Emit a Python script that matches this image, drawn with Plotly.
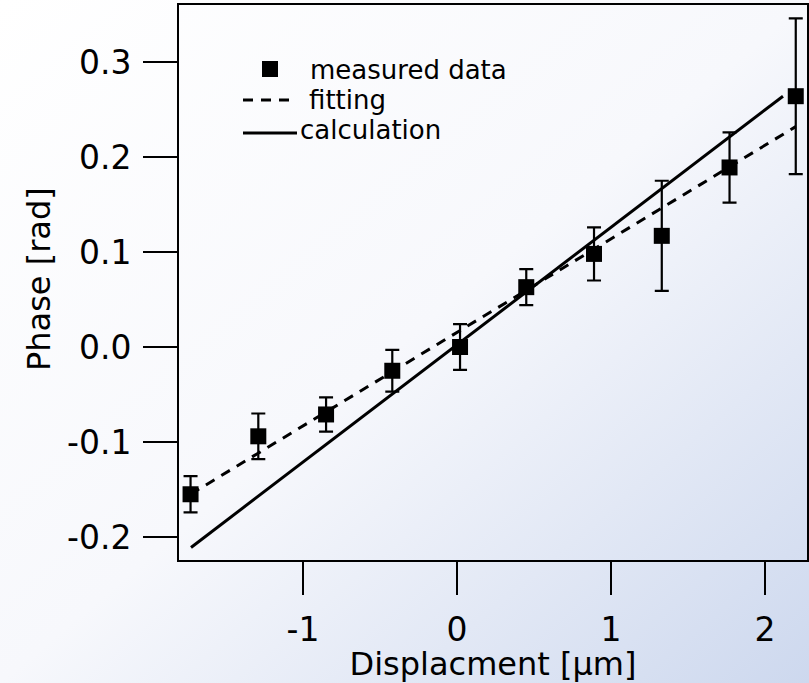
import base64
import plotly.graph_objects as go

# ---- data ----
disp = [-1.73, -1.29, -0.85, -0.42, 0.02, 0.45, 0.89, 1.33, 1.77, 2.20]
phase = [-0.155, -0.094, -0.071, -0.025, 0.000, 0.063, 0.098, 0.117, 0.189, 0.264]
phase_err = [0.019, 0.024, 0.018, 0.022, 0.024, 0.019, 0.028, 0.058, 0.037, 0.082]

fit_x = [-1.73, 2.20]
fit_y = [-0.155, 0.232]

calc_x = [-1.727, 2.117]
calc_y = [-0.211, 0.264]

x_tickvals = [-1, 0, 1, 2]
x_ticktext = ["-1", "0", "1", "2"]
y_tickvals = [-0.2, -0.1, 0.0, 0.1, 0.2, 0.3]
y_ticktext = ["-0.2", "-0.1", "0.0", "0.1", "0.2", "0.3"]

legend_labels = ["measured data", "fitting", "calculation"]

# ---- figure geometry ----
W, H = 809, 683
L, R, T, B = 179, 2, 5, 123
PW, PH = W - L - R, H - T - B


def px(xp):
    return (xp - L) / PW


def py(yp):
    return (H - B - yp) / PH


FONT = "DejaVu Sans"

fig = go.Figure()

fig.add_trace(go.Scatter(
    x=calc_x, y=calc_y, mode="lines",
    line=dict(color="black", width=3), showlegend=False))
fig.add_trace(go.Scatter(
    x=fit_x, y=fit_y, mode="lines",
    line=dict(color="black", width=3, dash="10px,8px"), showlegend=False))
fig.add_trace(go.Scatter(
    x=disp, y=phase, mode="markers",
    marker=dict(symbol="square", size=16, color="black"),
    error_y=dict(type="data", array=phase_err, color="black", thickness=2.2, width=7),
    showlegend=False, cliponaxis=False))

# background gradient
svg = (
    '<svg xmlns="http://www.w3.org/2000/svg" width="809" height="683" preserveAspectRatio="none">'
    '<defs><linearGradient id="g" x1="0" y1="0" x2="1" y2="1">'
    '<stop offset="0" stop-color="#ffffff"/>'
    '<stop offset="0.5" stop-color="#f7f8fc"/>'
    '<stop offset="1" stop-color="#cdd8ee"/>'
    '</linearGradient></defs>'
    '<rect width="809" height="683" fill="url(#g)"/></svg>'
)
src = "data:image/svg+xml;base64," + base64.b64encode(svg.encode()).decode()
fig.add_layout_image(dict(
    source=src, xref="paper", yref="paper",
    x=px(0), y=py(0), sizex=W / PW, sizey=H / PH,
    xanchor="left", yanchor="top", sizing="stretch", layer="below"))

# manual legend
fig.add_shape(type="rect", xref="paper", yref="paper",
              x0=px(262), x1=px(278), y0=py(77), y1=py(61),
              fillcolor="black", line=dict(width=0))
fig.add_shape(type="line", xref="paper", yref="paper",
              x0=px(243), x1=px(293), y0=py(100), y1=py(100),
              line=dict(color="black", width=3, dash="10px,8px"))
fig.add_shape(type="line", xref="paper", yref="paper",
              x0=px(243), x1=px(297), y0=py(133), y1=py(133),
              line=dict(color="black", width=3))
for lab, xl, yc in zip(legend_labels, [308, 307, 298], [70, 100, 130]):
    fig.add_annotation(text=lab, xref="paper", yref="paper",
                       x=px(xl), y=py(yc), xanchor="left", yanchor="middle",
                       showarrow=False, font=dict(family=FONT, size=26, color="black"))

# y axis title as rotated annotation
fig.add_annotation(text="Phase [rad]", xref="paper", yref="paper",
                   x=px(39), y=py(279), xanchor="center", yanchor="middle",
                   textangle=-90, showarrow=False,
                   font=dict(family=FONT, size=32, color="black"))

axis_common = dict(
    showgrid=False, zeroline=False, showline=True, linecolor="black",
    linewidth=2, mirror=True, ticks="outside", tickcolor="black",
    tickwidth=2, automargin=False,
    tickfont=dict(family=FONT, size=33, color="black"),
)

fig.update_xaxes(
    **axis_common, range=[-1.805, 2.273], ticklen=33, ticklabelstandoff=6,
    tickvals=x_tickvals, ticktext=x_ticktext,
    title=dict(text="Displacment [μm]", font=dict(family=FONT, size=32, color="black"),
               standoff=0))
fig.update_yaxes(
    **axis_common, range=[-0.2242, 0.36], ticklen=34, ticklabelstandoff=5,
    tickvals=y_tickvals, ticktext=y_ticktext)

fig.update_layout(
    width=W, height=H,
    margin=dict(l=L, r=R, t=T, b=B, pad=0),
    paper_bgcolor="white", plot_bgcolor="rgba(0,0,0,0)",
    showlegend=False,
    font=dict(family=FONT, color="black"),
)

fig.write_html("out.html", config={"displayModeBar": False},
               post_script="document.body.style.margin='0';document.body.style.overflow='hidden';")
